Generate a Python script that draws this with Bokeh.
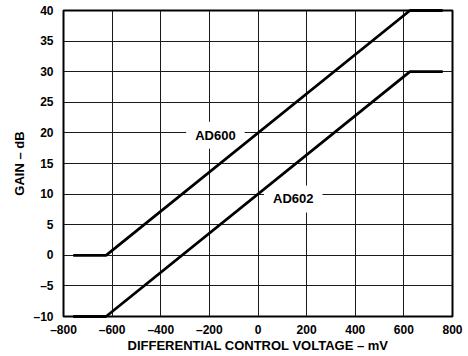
from bokeh.plotting import figure
from bokeh.models import Range1d, FixedTicker, Label
from bokeh.embed import file_html
from bokeh.resources import INLINE

# Data (mV, dB)
ad600_x = [-760, -625, 625, 760]
ad600_y = [0, 0, 40, 40]
ad602_x = [-760, -625, 625, 760]
ad602_y = [-10, -10, 30, 30]

x_ticks = [-800, -600, -400, -200, 0, 200, 400, 600, 800]
x_tick_labels = ["\u2013800", "\u2013600", "\u2013400", "\u2013200", "0", "200", "400", "600", "800"]
y_ticks = [-10, -5, 0, 5, 10, 15, 20, 25, 30, 35, 40]
y_tick_labels = ["\u201310", "\u20135", "0", "5", "10", "15", "20", "25", "30", "35", "40"]

labels = ["AD600", "AD602"]
label_x = [-175, 145]
label_y = [19.6, 9.2]

FONT = "Liberation Sans"

p = figure(width=468, height=355, output_backend="svg", toolbar_location=None,
           x_range=Range1d(-800, 800), y_range=Range1d(-10, 40),
           min_border_left=63, min_border_right=16, min_border_top=10, min_border_bottom=0)

p.background_fill_color = "white"
p.border_fill_color = "white"
p.outline_line_color = "black"
p.outline_line_width = 2

for g in (p.xgrid, p.ygrid):
    g.grid_line_color = "#1a1a1a"
    g.grid_line_width = 1
    g.grid_line_alpha = 1.0
p.xgrid.ticker = FixedTicker(ticks=x_ticks)
p.ygrid.ticker = FixedTicker(ticks=y_ticks)

p.xaxis.ticker = FixedTicker(ticks=x_ticks)
p.yaxis.ticker = FixedTicker(ticks=y_ticks)
p.xaxis.major_label_overrides = {t: l for t, l in zip(x_ticks, x_tick_labels)}
p.yaxis.major_label_overrides = {t: l for t, l in zip(y_ticks, y_tick_labels)}

for ax in (p.xaxis, p.yaxis):
    ax.axis_line_color = None
    ax.major_tick_in = 0
    ax.major_tick_out = 0
    ax.minor_tick_in = 0
    ax.minor_tick_out = 0
    ax.major_label_text_font = FONT
    ax.major_label_text_font_style = "bold"
    ax.major_label_text_font_size = "12px"
    ax.major_label_text_color = "black"
    ax.axis_label_text_font = FONT
    ax.axis_label_text_font_style = "bold"
    ax.axis_label_text_font_size = "13px"
    ax.axis_label_text_color = "black"

p.xaxis.axis_label = "DIFFERENTIAL CONTROL VOLTAGE \u2013 mV"
p.yaxis.axis_label = "GAIN \u2013 dB"
p.xaxis.major_label_standoff = 6
p.xaxis.axis_label_standoff = -2
p.yaxis.major_label_standoff = 10
p.yaxis.axis_label_standoff = 3

for txt, lx, ly in zip(labels, label_x, label_y):
    p.add_layout(Label(x=lx, y=ly, text=txt, text_align="center", text_baseline="middle",
                       text_font=FONT, text_font_style="bold", text_font_size="13px",
                       text_color="black", background_fill_color="white",
                       padding=dict(left=9, right=9, top=6, bottom=6)))

p.line(ad600_x, ad600_y, line_color="black", line_width=2.8, level="overlay")
p.line(ad602_x, ad602_y, line_color="black", line_width=2.8, level="overlay")

open("out.html", "w").write(file_html(p, INLINE))
